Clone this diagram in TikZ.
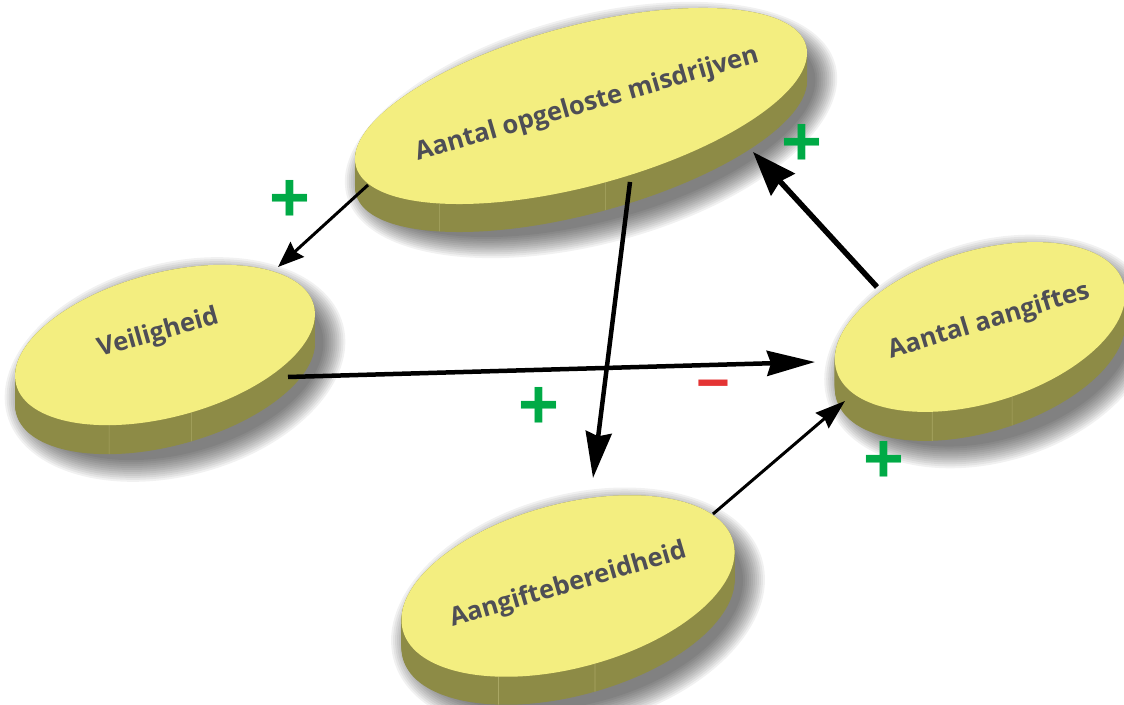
\documentclass[tikz,border=0pt]{standalone}
\usepackage{fontspec}
\setmainfont{Open Sans}
\newfontfamily\signfont{Liberation Sans}
\usetikzlibrary{arrows.meta}

\definecolor{discTop}{RGB}{243,238,128}
\definecolor{discSide}{RGB}{141,139,70}
\definecolor{discSeam}{RGB}{170,167,100}
\definecolor{discText}{RGB}{78,78,86}
\definecolor{signGreen}{RGB}{0,170,70}
\definecolor{signRed}{RGB}{228,52,52}

% #1 name, #2 cx, #3 cy, #4 semi-major, #5 semi-minor, #6 tilt, #7 thickness,
% #8 and #9 angles of the two seams on the rim
\newcommand{\drawdisc}[9]{%
  \foreach \k in {0,2,...,22} {
    \fill[black, opacity=0.055, shift={(#2+10,#3-#7/2-10)}, rotate=#6]
      (0,0) ellipse ({#4+20-\k} and {#5+#7/2+20-\k});
  }
  \foreach \d in {0,1,...,#7} {
    \fill[discSide, shift={(#2,#3-\d)}, rotate=#6] (0,0) ellipse (#4 and #5);
  }
  \draw[discSeam, line width=0.6pt, shift={(#2,#3)}, rotate=#6]
    (#8:#4 and #5) -- ++({-#7*sin(#6)},{-#7*cos(#6)})
    (#9:#4 and #5) -- ++({-#7*sin(#6)},{-#7*cos(#6)});
  \fill[discTop, shift={(#2,#3)}, rotate=#6] (0,0) ellipse (#4 and #5);
  \coordinate (#1) at (#2,#3);
}

\begin{document}
\begin{tikzpicture}[x=1pt, y=1pt,
  disctext/.style={text=discText, font=\fontsize{25.5}{30}\selectfont\bfseries,
    anchor=base, inner sep=0pt},
  conn/.style={black, line cap=butt},
  plussign/.style={text=signGreen, inner sep=0pt,
    font=\signfont\fontsize{70}{70}\selectfont\bfseries},
  minussign/.style={text=signRed, inner sep=0pt,
    font=\signfont\fontsize{58}{58}\selectfont\bfseries}]
\useasboundingbox (0,0) rectangle (1124,704);

% the four discs
\drawdisc{misd}{581}{598}{233}{80}{15}{28}{226}{271}
\drawdisc{veil}{165}{359}{154}{72}{15}{29}{241}{273}
\drawdisc{aang}{980}{377}{150}{76}{17}{29}{242}{274}
\drawdisc{bere}{568}{118}{171}{82}{15}{28}{238}{272}

% labels on the discs
\node[disctext, rotate=16.1] (tmisd) at (589,593) {Aantal opgeloste misdrijven};
\node[disctext, rotate=15.8] (tveil) at (160,364) {Veiligheid};
\node[disctext, rotate=16.9] (taang) at (991,376) {Aantal aangiftes};
\node[disctext, rotate=16.4] (tbere) at (570,112) {Aangiftebereidheid};

% connector end points on the rims
\coordinate (misd-out1) at (368,519);
\coordinate (veil-in)   at (278,437);
\coordinate (misd-out2) at (630,522);
\coordinate (bere-in)   at (593,226);
\coordinate (aang-out)  at (877,417);
\coordinate (misd-in)   at (753,552);
\coordinate (veil-out)  at (288,327);
\coordinate (aang-in1)  at (815,342);
\coordinate (bere-out)  at (713,190);
\coordinate (aang-in2)  at (845,303);

% connectors
\draw[conn, line width=3pt, -{Stealth[length=26pt, width=20pt, inset=3pt]}]
  (misd-out1) -- (veil-in);
\draw[conn, line width=4.5pt, -{Stealth[length=46pt, width=26pt, inset=4pt]}]
  (misd-out2) -- (bere-in);
\draw[conn, line width=5.5pt, -{Stealth[length=44pt, width=32pt, inset=4pt]}]
  (aang-out) -- (misd-in);
\draw[conn, line width=4.5pt, -{Stealth[length=48pt, width=25pt, inset=4pt]}]
  (veil-out) -- (aang-in1);
\draw[conn, line width=3pt, -{Stealth[length=30pt, width=20pt, inset=3pt]}]
  (bere-out) -- (aang-in2);

% polarity signs
\node[plussign] (s1) at (290,503) {+};
\node[plussign] (s2) at (802,559) {+};
\node[plussign] (s3) at (539,296) {+};
\node[plussign] (s4) at (884,242) {+};
\node[minussign] (s5) at (713,313) {−};
\end{tikzpicture}
\end{document}
